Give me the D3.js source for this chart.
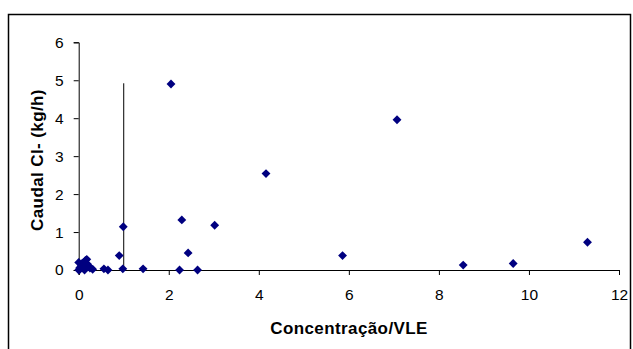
<!DOCTYPE html>
<html lang="en">
<head>
<meta charset="UTF-8">
<script src="https://d3js.org/d3.v7.min.js"></script>
<style>
    body { margin: 0; background: #fff; }
    text { font-family: "Liberation Sans", Arial, sans-serif; }
    .axis-title { font-size: 17px; font-weight: bold; fill: #000; letter-spacing: 0.4px; }
</style>
</head>
<body>
<script>
    const width = 633;
    const height = 349;

    // concentration / VLE
    const concVle = [2.05, 7.07, 4.16, 2.29, 3.02, 0.99, 11.3, 2.43, 5.86, 0.9,
        8.54, 9.65, 1.43, 0.98, 2.24, 2.64, 0.65, 0.56, 0.31,
        0, 0, 0.02, 0.05, 0.08, 0.1, 0.13, 0.15, 0.18, 0.2, 0.22, 0.25, 0.12, 0.03];
    // caudal Cl- (kg/h)
    const caudal = [4.9, 3.96, 2.54, 1.32, 1.18, 1.14, 0.73, 0.45, 0.38, 0.38,
        0.13, 0.17, 0.03, 0.03, 0, 0, 0, 0.03, 0.02,
        0.2, 0, 0.05, 0.1, 0.18, 0.05, 0, 0.25, 0.28, 0.15, 0.1, 0.05, 0.2, 0.02];
    const xTicks = [0, 2, 4, 6, 8, 10, 12];
    const yTicks = [0, 1, 2, 3, 4, 5, 6];
    const limitLine = [{x: 1, y: 0}, {x: 1, y: 4.92}];

    const x = d3.scaleLinear().domain([0, 12]).range([78.7, 619]);
    const y = d3.scaleLinear().domain([0, 6]).range([270, 42.3]);

    const svg = d3.select('body').append('svg')
        .attr('width', width)
        .attr('height', height);

    // outer frame
    svg.append('rect')
        .attr('x', 8.5).attr('y', 14.5)
        .attr('width', 622).attr('height', 345)
        .attr('fill', 'none').attr('stroke', '#000').attr('stroke-width', 1.5);

    const xAxis = svg.append('g')
        .attr('transform', `translate(0,${y(0)})`)
        .call(d3.axisBottom(x).tickValues(xTicks).tickFormat(d3.format('d')).tickSize(5).tickPadding(14));
    const yAxis = svg.append('g')
        .attr('transform', `translate(${x(0)},0)`)
        .call(d3.axisLeft(y).tickValues(yTicks).tickFormat(d3.format('d')).tickSize(5).tickPadding(10));
    [xAxis, yAxis].forEach(g => {
        g.attr('font-size', 15.5).attr('font-family', '"Liberation Sans", Arial, sans-serif');
        g.select('.domain').attr('stroke', '#000');
        g.selectAll('.tick line').attr('stroke', '#000');
        g.selectAll('.tick text').attr('fill', '#000');
    });

    svg.append('path')
        .datum(limitLine)
        .attr('fill', 'none')
        .attr('stroke', '#000')
        .attr('stroke-width', 1)
        .attr('d', d3.line().x(d => x(d.x)).y(d => y(d.y)));

    const points = concVle.map((c, i) => ({x: c, y: caudal[i]}));
    const diamond = d3.symbol().type(d3.symbolDiamond2).size(50);
    svg.selectAll('.pt')
        .data(points)
        .enter().append('path')
        .attr('class', 'pt')
        .attr('transform', d => `translate(${x(d.x)},${y(d.y)})`)
        .attr('d', diamond)
        .attr('fill', '#000080');

    svg.append('text')
        .attr('class', 'axis-title')
        .attr('x', 349).attr('y', 334)
        .attr('text-anchor', 'middle')
        .text('Concentração/VLE');

    svg.append('text')
        .attr('class', 'axis-title')
        .attr('transform', 'translate(43,160) rotate(-90)')
        .attr('text-anchor', 'middle')
        .text('Caudal Cl- (kg/h)');
</script>
</body>
</html>
